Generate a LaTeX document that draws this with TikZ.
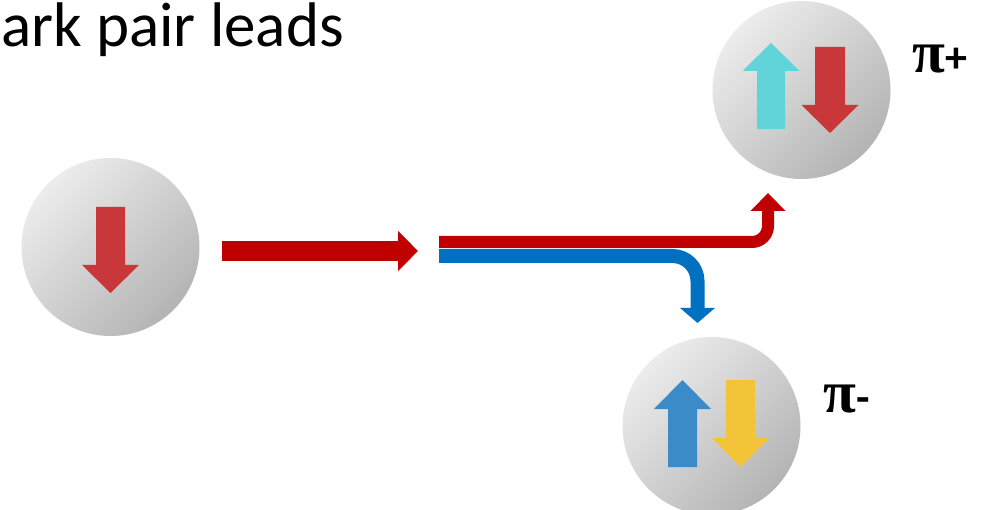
\documentclass[tikz,border=0pt]{standalone}
\usepackage{fontspec}
\setmainfont{Carlito}
\newfontfamily\greekfont{Liberation Serif}
\usetikzlibrary{arrows.meta}

\definecolor{spinred}{RGB}{200,56,58}
\definecolor{spincyan}{RGB}{96,212,216}
\definecolor{spinblue}{RGB}{58,139,199}
\definecolor{spinyellow}{RGB}{244,196,56}
\definecolor{flowred}{RGB}{192,0,0}
\definecolor{flowblue}{RGB}{0,112,192}
\definecolor{balllight}{RGB}{236,236,236}
\definecolor{balldark}{RGB}{180,180,180}

% spin arrow: centre x, tail y, head-base y, tip y, shaft half-width, head half-width
\newcommand{\spinarrow}[7]{%
  \fill[#1] (#2-#6,#3) -- (#2+#6,#3) -- (#2+#6,#4) -- (#2+#7,#4)
    -- (#2,#5) -- (#2-#7,#4) -- (#2-#6,#4) -- cycle;}

\tikzset{
  ball/.style={circle, minimum size=178pt, inner sep=0pt,
    shading=axis, top color=balllight, bottom color=balldark, shading angle=45},
  flow/.style={line width=#1, line cap=butt},
  mesonlabel/.style={anchor=base west, inner sep=0pt, font=\bfseries},
}

\begin{document}
\begin{tikzpicture}[x=1pt, y=-1pt]
\useasboundingbox (0,0) rectangle (987,510);

\node[anchor=base west, inner sep=0pt, font=\fontsize{63}{70}\selectfont] (title) at (1,47) {ark pair leads};

% quark and mesons
\node[ball] (quark) at (110.5,247) {};
\node[ball] (piplus) at (801.5,90) {};
\node[ball] (piminus) at (711.5,426) {};

\spinarrow{spinred}{110.5}{207}{265}{293}{14.5}{28.5}
\spinarrow{spincyan}{771}{129}{71}{43}{14}{28.5}
\spinarrow{spinred}{830}{47}{105}{133}{15}{28.5}
\spinarrow{spinblue}{682.5}{467}{409}{380}{14.5}{28.5}
\spinarrow{spinyellow}{740.5}{380}{438}{467}{14.5}{28.5}

\node[mesonlabel] (lplus) at (912,73) {{\greekfont\fontsize{60}{60}\selectfont π}{\fontsize{44}{50}\selectfont +}};
\node[mesonlabel] (lminus) at (823,412) {{\greekfont\fontsize{60}{60}\selectfont π}{\fontsize{44}{50}\selectfont -}};

% flow arrows
\coordinate (mainstart) at (222,251);
\coordinate (mainend) at (418,251);
\coordinate (split) at (439,242);
\coordinate (splitb) at (439,256);
\draw[flow=20pt, flowred, -{Triangle[width=39pt, length=20pt]}] (mainstart) -- (mainend);
\draw[flow=12pt, flowred, rounded corners=16pt, -{Triangle[width=34pt, length=18pt]}]
  (split) -- (768,242) -- (768,193);
\draw[flow=14pt, flowblue, rounded corners=25pt, -{Triangle[width=34pt, length=15pt]}]
  (splitb) -- (697.5,256) -- (697.5,323);
\end{tikzpicture}
\end{document}
